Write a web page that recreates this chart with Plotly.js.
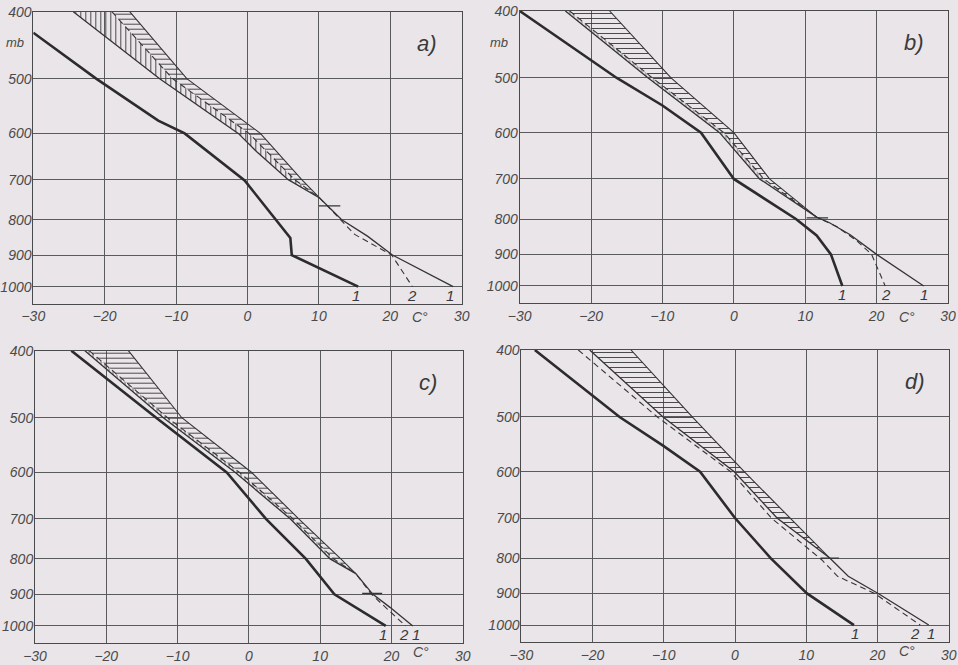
<!DOCTYPE html>
<html>
<head>
<meta charset="utf-8">
<script src="https://cdn.plot.ly/plotly-3.0.1.min.js"></script>
<style>
html,body{margin:0;padding:0;background:#e9e5e9;}
#chart{width:958px;height:665px;}
</style>
</head>
<body>
<div id="chart"></div>
<script>
// ---------- data (pressure mb, temperature °C) ----------
// panel a
const A_THICK_P = [429, 500, 575, 600, 702, 850, 900, 1000];
const A_THICK_T = [-30, -21.2, -12.5, -8.8, -0.4, 6.0, 6.2, 15.5];
const A_C1_P = [400, 500, 600, 638, 700, 744, 800, 845, 900, 1000];
const A_C1_T = [-24.4, -12.3, -1.3, 1.3, 5.7, 10.1, 13.2, 16.8, 20.3, 28.8];
const A_C2_P = [400, 500, 600, 700, 744, 764, 800, 840, 900, 1000];
const A_C2_T = [-19.0, -10.5, 0.2, 6.6, 10.1, 11.2, 13.0, 15.0, 20.2, 23.1];
const A_C3_P = [400, 500, 600, 700, 744];
const A_C3_T = [-16.5, -8.5, 1.8, 7.6, 10.1];
const A_MARK_P = [764, 764];
const A_MARK_T = [10.0, 13.0];
const A_JOIN = 744;

// panel b
const B_THICK_P = [400, 500, 548, 600, 700, 800, 845, 900, 1000];
const B_THICK_T = [-30, -16.4, -10, -4.6, 0, 8.7, 11.6, 13.6, 15.2];
const B_C1_P = [400, 500, 600, 700, 795, 810, 843, 900, 1000];
const B_C1_T = [-23.6, -12.0, -2.0, 3.6, 11.6, 13.4, 16.3, 20.0, 26.6];
const B_C2_P = [400, 500, 600, 700, 795, 820, 860, 900, 1000];
const B_C2_T = [-23.0, -11.4, -1.4, 4.2, 11.6, 14.4, 17.2, 19.3, 21.2];
const B_C3_P = [400, 500, 600, 700, 795];
const B_C3_T = [-17.4, -8.8, 0.0, 5.0, 11.6];
const B_MARK_P = [797, 797];
const B_MARK_T = [10.2, 13.2];
const B_JOIN = 795;

// panel c
const C_THICK_P = [400, 500, 600, 700, 800, 850, 900, 1000];
const C_THICK_T = [-24.9, -13.0, -3.1, 2.4, 8.0, 10.0, 12.0, 19.2];
const C_C1_P = [400, 500, 600, 700, 800, 840, 900, 940, 1000];
const C_C1_T = [-23.0, -12.0, -1.9, 5.8, 11.4, 15.0, 17.4, 19.8, 23.0];
const C_C2_P = [400, 500, 600, 700, 800, 840, 900, 1000];
const C_C2_T = [-22.4, -11.4, -1.3, 6.2, 11.9, 15.0, 17.2, 22.0];
const C_C3_P = [400, 500, 600, 700, 800, 840];
const C_C3_T = [-16.9, -9.4, 0.4, 7.0, 12.9, 15.0];
const C_MARK_P = [897, 897];
const C_MARK_T = [15.9, 18.7];
const C_JOIN = 840;

// panel d
const D_THICK_P = [400, 500, 550, 600, 700, 800, 900, 1000];
const D_THICK_T = [-28.1, -16.2, -10.1, -4.9, 0, 5.0, 10.1, 16.7];
const D_C1_P = [400, 500, 600, 700, 800, 850, 900, 1000];
const D_C1_T = [-20.4, -10.1, -0.1, 5.9, 13.3, 15.9, 20.1, 27.2];
const D_C2_P = [400, 500, 600, 700, 805, 850, 900, 1000];
const D_C2_T = [-22.0, -10.9, -0.6, 5.1, 12.2, 14.4, 19.6, 26.0];
const D_C3_P = [400, 500, 600, 700, 800];
const D_C3_T = [-14.6, -6.0, 1.3, 7.7, 13.3];
const D_MARK_P = [800, 800];
const D_MARK_T = [12.0, 14.6];
const D_JOIN = 800;

// tick labels
const Y_TICKS = [400, 500, 600, 700, 800, 900, 1000];
const Y_TICKTEXT = ['400', '500', '600', '700', '800', '900', '1000'];
const X_TICKS = [-30, -20, -10, 0, 10, 20, 30];
const X_TICKTEXT = ['\u221230', '\u221220', '\u221210', '0', '10', '20', '30'];

// curve end labels (x position, text) per panel
const A_END_LABELS = [[15.2, '1'], [23.0, '2'], [28.4, '1']];
const B_END_LABELS = [[15.1, '1'], [21.3, '2'], [26.6, '1']];
const C_END_LABELS = [[18.8, '1'], [21.7, '2'], [23.5, '1']];
const D_END_LABELS = [[16.8, '1'], [25.3, '2'], [27.5, '1']];
const PANEL_NAMES = ['a)', 'b)', 'c)', 'd)'];

// ---------- styling ----------
const BG = '#e9e5e9';
const INK = '#353535';
const GRID = '#5a5a5a';
const FONT = "'Liberation Sans Narrow','Liberation Sans',sans-serif";
const P_BOTTOM = 1058;

function upTo(P, T, pmax) {
  const p = [], t = [];
  for (let i = 0; i < P.length; i++) if (P[i] <= pmax) { p.push(P[i]); t.push(T[i]); }
  return [p, t];
}
function band(P1, T1, P2, T2, pmax) {
  const [pa, ta] = upTo(P1, T1, pmax);
  const [pb, tb] = upTo(P2, T2, pmax);
  return { x: ta.concat(tb.slice().reverse()), y: pa.concat(pb.slice().reverse()) };
}

const traces = [];
function line(xa, ya, T, P, opts) {
  traces.push(Object.assign({
    type: 'scatter', mode: 'lines', x: T, y: P, xaxis: xa, yaxis: ya,
    hoverinfo: 'skip', showlegend: false,
    line: { color: INK, width: 1.3 }
  }, opts || {}));
}
function hatch(xa, ya, poly, shape, size) {
  traces.push({
    type: 'scatter', mode: 'lines', x: poly.x, y: poly.y, xaxis: xa, yaxis: ya,
    fill: 'toself', fillcolor: 'rgba(0,0,0,0)',
    fillpattern: { shape: shape, fgcolor: '#3a3a3a', bgcolor: 'rgba(0,0,0,0)', size: size, solidity: 0.18, fgopacity: 1 },
    line: { width: 0, color: 'rgba(0,0,0,0)' }, hoverinfo: 'skip', showlegend: false
  });
}

const panels = [
  { xa: 'x', ya: 'y', th: [A_THICK_T, A_THICK_P], c1: [A_C1_P, A_C1_T], c2: [A_C2_P, A_C2_T], c3: [A_C3_P, A_C3_T], mk: [A_MARK_T, A_MARK_P], join: A_JOIN, strip: '|', stripSize: 5, c2left: false },
  { xa: 'x2', ya: 'y2', th: [B_THICK_T, B_THICK_P], c1: [B_C1_P, B_C1_T], c2: [B_C2_P, B_C2_T], c3: [B_C3_P, B_C3_T], mk: [B_MARK_T, B_MARK_P], join: B_JOIN, strip: '|', stripSize: 4, c2left: false },
  { xa: 'x3', ya: 'y3', th: [C_THICK_T, C_THICK_P], c1: [C_C1_P, C_C1_T], c2: [C_C2_P, C_C2_T], c3: [C_C3_P, C_C3_T], mk: [C_MARK_T, C_MARK_P], join: C_JOIN, strip: '|', stripSize: 4, c2left: false },
  { xa: 'x4', ya: 'y4', th: [D_THICK_T, D_THICK_P], c1: [D_C1_P, D_C1_T], c2: [D_C2_P, D_C2_T], c3: [D_C3_P, D_C3_T], mk: [D_MARK_T, D_MARK_P], join: D_JOIN, strip: null, stripSize: 4, c2left: true }
];

panels.forEach(pn => {
  const [c1p, c1t] = pn.c1, [c2p, c2t] = pn.c2, [c3p, c3t] = pn.c3;
  if (pn.strip) hatch(pn.xa, pn.ya, band(c1p, c1t, c2p, c2t, pn.join), pn.strip, pn.stripSize);
  if (pn.c2left) hatch(pn.xa, pn.ya, band(c1p, c1t, c3p, c3t, pn.join), '-', 5);
  else hatch(pn.xa, pn.ya, band(c2p, c2t, c3p, c3t, pn.join), '-', 5);
  line(pn.xa, pn.ya, pn.th[0], pn.th[1], { line: { color: '#2c2c2c', width: 2.6 } });
  line(pn.xa, pn.ya, c1t, c1p, { line: { color: INK, width: 1.3 } });
  line(pn.xa, pn.ya, c2t, c2p, { line: { color: INK, width: 1.1, dash: '6px,4px' } });
  line(pn.xa, pn.ya, c3t, c3p, { line: { color: INK, width: 1.1 } });
  line(pn.xa, pn.ya, pn.mk[0], pn.mk[1], { line: { color: INK, width: 1.3 } });
});

// ---------- axes ----------
const tickFont = { family: FONT, size: 14, color: '#4a4a4a' };
const ital = s => '<i>' + s + '</i>';
function xAxis(domain, anchor) {
  return {
    domain: domain, anchor: anchor, range: [-30, 30], tickvals: X_TICKS, ticktext: X_TICKTEXT.map(ital),
    showgrid: true, gridcolor: GRID, gridwidth: 1, zeroline: false,
    showline: true, mirror: true, linecolor: '#4a4a4a', linewidth: 1,
    ticks: '', tickfont: tickFont, fixedrange: true
  };
}
function yAxis(domain, anchor) {
  return {
    domain: domain, anchor: anchor, type: 'log',
    range: [Math.log10(P_BOTTOM), Math.log10(400)],
    tickvals: Y_TICKS, ticktext: Y_TICKTEXT.map(ital),
    showgrid: true, gridcolor: GRID, gridwidth: 1, zeroline: false,
    showline: true, mirror: true, linecolor: '#4a4a4a', linewidth: 1,
    ticks: '', tickfont: tickFont, ticklabelstandoff: -2, fixedrange: true
  };
}
const W = 958, H = 665;
function px(a, b) { return [a / W, b / W]; }
function py(top, bottom) { return [1 - bottom / H, 1 - top / H]; }

const layout = {
  width: W, height: H,
  margin: { l: 0, r: 0, t: 0, b: 0 },
  paper_bgcolor: BG, plot_bgcolor: BG,
  showlegend: false,
  xaxis: xAxis(px(33.3, 461.7), 'y'),
  yaxis: yAxis(py(11.7, 303.6), 'x'),
  xaxis2: xAxis(px(519.7, 948), 'y2'),
  yaxis2: yAxis(py(11, 302.9), 'x2'),
  xaxis3: xAxis(px(35, 462.7), 'y3'),
  yaxis3: yAxis(py(350.7, 642.9), 'x3'),
  xaxis4: xAxis(px(521.3, 948.7), 'y4'),
  yaxis4: yAxis(py(350, 642), 'x4'),
  annotations: []
};

const endLabels = [A_END_LABELS, B_END_LABELS, C_END_LABELS, D_END_LABELS];
const axes = [['x', 'y'], ['x2', 'y2'], ['x3', 'y3'], ['x4', 'y4']];
const labelFont = { family: FONT, size: 15, color: '#3a3a3a' };
endLabels.forEach((lst, i) => {
  lst.forEach(([xv, txt]) => {
    layout.annotations.push({ xref: axes[i][0], yref: axes[i][1], x: xv, y: Math.log10(1030),
      text: ital(txt), showarrow: false, font: labelFont, xanchor: 'center', yanchor: 'middle' });
  });
  // panel name
  layout.annotations.push({ xref: axes[i][0], yref: axes[i][1], x: 25.2, y: Math.log10(444),
    text: ital(PANEL_NAMES[i]), showarrow: false, font: { family: FONT, size: 22, color: '#3a3a3a' },
    xanchor: 'center', yanchor: 'middle' });
});
// degree unit labels
[[33.3, 461.7, 317], [519.7, 948, 317], [35, 462.7, 652], [521.3, 948.7, 651]].forEach(([l, r, y]) => {
  layout.annotations.push({ xref: 'paper', yref: 'paper', x: (l + (r - l) * (54.2 / 60)) / W, y: 1 - y / H,
    text: ital('C\u00b0'), showarrow: false, font: tickFont, xanchor: 'center', yanchor: 'middle' });
});
// "mb" unit labels under 400 (panels a and b)
[[15, 43], [499, 43]].forEach(([x, y]) => {
  layout.annotations.push({ xref: 'paper', yref: 'paper', x: x / W, y: 1 - y / H,
    text: ital('mb'), showarrow: false, font: { family: FONT, size: 13, color: '#4a4a4a' },
    xanchor: 'center', yanchor: 'middle' });
});

Plotly.newPlot('chart', traces, layout, { staticPlot: true, displayModeBar: false });
</script>
</body>
</html>
